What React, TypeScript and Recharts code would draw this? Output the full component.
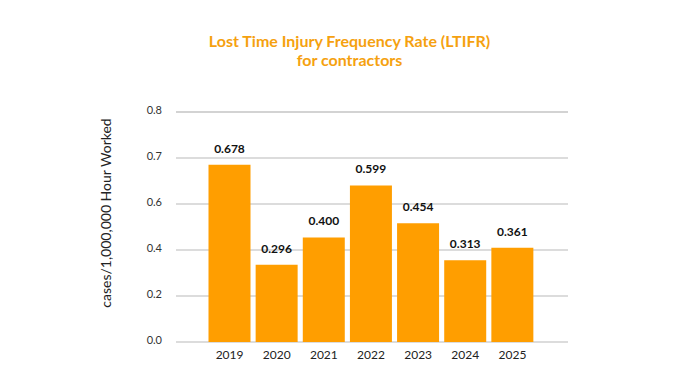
import React from 'react';
import { BarChart, Bar, XAxis, YAxis, CartesianGrid, LabelList } from 'recharts';

const years = ['2019', '2020', '2021', '2022', '2023', '2024', '2025'];
const ltifr = [0.678, 0.296, 0.4, 0.599, 0.454, 0.313, 0.361];
const yTickLabels = ['0.0', '0.2', '0.4', '0.6', '0.7', '0.8'];
const axisMax = 0.88;

const data = years.map((y, i) => ({ year: y, value: ltifr[i] }));
const yTicks = yTickLabels.map((_, i) => (axisMax * i) / (yTickLabels.length - 1));

const FONT = 'Lato, "Noto Sans", sans-serif';
const ORANGE = '#FF9E00';

export default function App() {
  return (
    <div style={{ position: 'absolute', left: 0, top: 0, width: 699, height: 391, background: '#fff', fontFamily: FONT }}>
      <div style={{ position: 'absolute', left: 0, top: 31, width: 699, textAlign: 'center', color: '#F5A10F', fontWeight: 700, fontSize: 16, lineHeight: '19px', fontFamily: FONT }}>
        Lost Time Injury Frequency Rate (LTIFR)
        <br />
        for contractors
      </div>
      <BarChart width={699} height={391} data={data} margin={{ top: 112, right: 131, bottom: 19, left: 0 }} barCategoryGap={2.5}>
        <CartesianGrid vertical={false} stroke="#d0d0d0" strokeWidth={1.5} />
        <XAxis dataKey="year" axisLine={false} tickLine={false} padding={{ left: 30, right: 32 }} height={30} tick={{ fill: '#222', fontSize: 12, fontFamily: FONT }} tickMargin={2} interval={0} />
        <YAxis domain={[0, axisMax]} ticks={yTicks} tickFormatter={(_v: number, i: number) => yTickLabels[i]} axisLine={false} tickLine={false} width={176} tickMargin={8} interval={0} tick={{ fill: '#333', fontSize: 11, fontFamily: FONT, dy: -2 }}
          label={{ value: 'cases/1,000,000 Hour Worked', angle: -90, position: 'insideLeft', offset: 0, dx: 106, dy: -14, style: { textAnchor: 'middle', fill: '#222', fontSize: 14, fontFamily: FONT } }} />
        <Bar dataKey="value" fill={ORANGE} isAnimationActive={false}>
          <LabelList dataKey="value" position="top" offset={12} formatter={(v: number) => v.toFixed(3)} style={{ fill: '#111', fontSize: 12, fontWeight: 700, fontFamily: FONT }} />
        </Bar>
      </BarChart>
    </div>
  );
}
